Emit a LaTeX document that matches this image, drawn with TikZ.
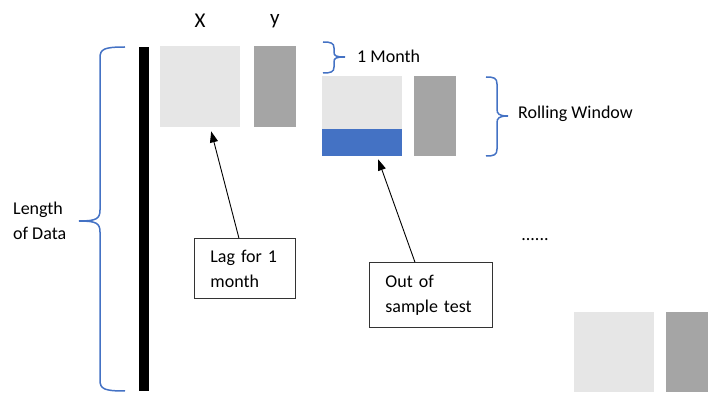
\documentclass[tikz,border=0pt]{standalone}
\usepackage{fontspec}
\setmainfont{Carlito}
\usetikzlibrary{calc,arrows.meta}
\definecolor{lgray}{HTML}{E6E6E6}
\definecolor{dgray}{HTML}{A5A5A5}
\definecolor{bblue}{HTML}{4472C4}
\begin{document}
\begin{tikzpicture}[x=1pt,y=-1pt,
  every node/.style={font=\fontsize{18}{25}\selectfont},
  xbox/.style={fill=lgray, draw=none, minimum width=80pt, minimum height=81pt, anchor=north west, inner sep=0pt},
  ybox/.style={fill=dgray, draw=none, minimum width=42pt, minimum height=81pt, anchor=north west, inner sep=0pt},
  oosbar/.style={fill=bblue, draw=none, minimum width=80pt, minimum height=27pt, anchor=north west, inner sep=0pt},
  labelbox/.style={draw=black!80, line width=0.8pt, fill=white, align=left, inner xsep=16pt, inner ysep=0pt, anchor=north west},
  brace/.style={draw=bblue, line width=1.5pt},
  arr/.style={draw=black, line width=0.9pt, -{Triangle[length=11pt,width=8pt]}},
  lbl/.style={inner sep=0pt},
  head/.style={inner sep=0pt, font=\fontsize{21}{25}\selectfont}
]
\useasboundingbox (0,0) rectangle (724,414);
% black bar
\node[fill=black, minimum width=10pt, minimum height=344pt, inner sep=0pt, anchor=north west] (bar) at (139,47) {};
% first window
\node[xbox] (x1) at (160,46) {};
\node[ybox] (y1) at (254,46) {};
\node[head] (xl) at (200,21) {X};
\node[head] (yl) at (275,21) {y};
% second window
\node[xbox, minimum height=80pt] (x2) at (322,76) {};
\node[oosbar] (oos) at (322,129) {};
\node[ybox, minimum height=80pt] (y2) at (414,76) {};
% last window
\node[xbox, minimum height=80pt] (x3) at (574,312) {};
\node[ybox, minimum height=80pt] (y3) at (666,312) {};
% dots
\node[lbl] (dots) at (535,240) {......};
% big brace
\draw[brace] (125,47) .. controls (104,47) and (100,49) .. (100,58)
  -- (100,210) .. controls (100,219) and (96,221) .. (79,221)
  .. controls (96,221) and (100,223) .. (100,232)
  -- (100,380) .. controls (100,389) and (104,391) .. (125,391);
\node[lbl, align=left, anchor=west] (len) at (13,221) {Length\\of Data};
% 1 month brace
\draw[brace] (323,42) .. controls (331,42) and (334,43) .. (334,48)
  -- (334,52) .. controls (334,56) and (336,57) .. (345,57)
  .. controls (336,57) and (334,58) .. (334,62)
  -- (334,67) .. controls (334,72) and (331,73) .. (323,73);
\node[lbl, anchor=west] (month) at (357,56) {1 Month};
% rolling window brace
\draw[brace] (486,77) .. controls (494,77) and (497,78) .. (497,84)
  -- (497,109) .. controls (497,114) and (499,116) .. (508,116)
  .. controls (499,116) and (497,118) .. (497,123)
  -- (497,149) .. controls (497,155) and (494,156) .. (486,156);
\node[lbl, anchor=west] (roll) at (518,114) {Rolling Window};
% label boxes
\node[labelbox, text width=69pt, minimum height=60pt] (lag) at (194,238) {Lag for 1\\month};
\node[labelbox, text width=91pt, minimum height=65pt] (test) at (369,262) {Out of\\sample test};
% arrows
\draw[arr] ($(lag.north)+(-6,0)$) -- ($(x1.south)+(11,4)$);
\draw[arr] ($(test.north)+(-16,0)$) -- ($(oos.south)+(16,3)$);
\end{tikzpicture}
\end{document}
